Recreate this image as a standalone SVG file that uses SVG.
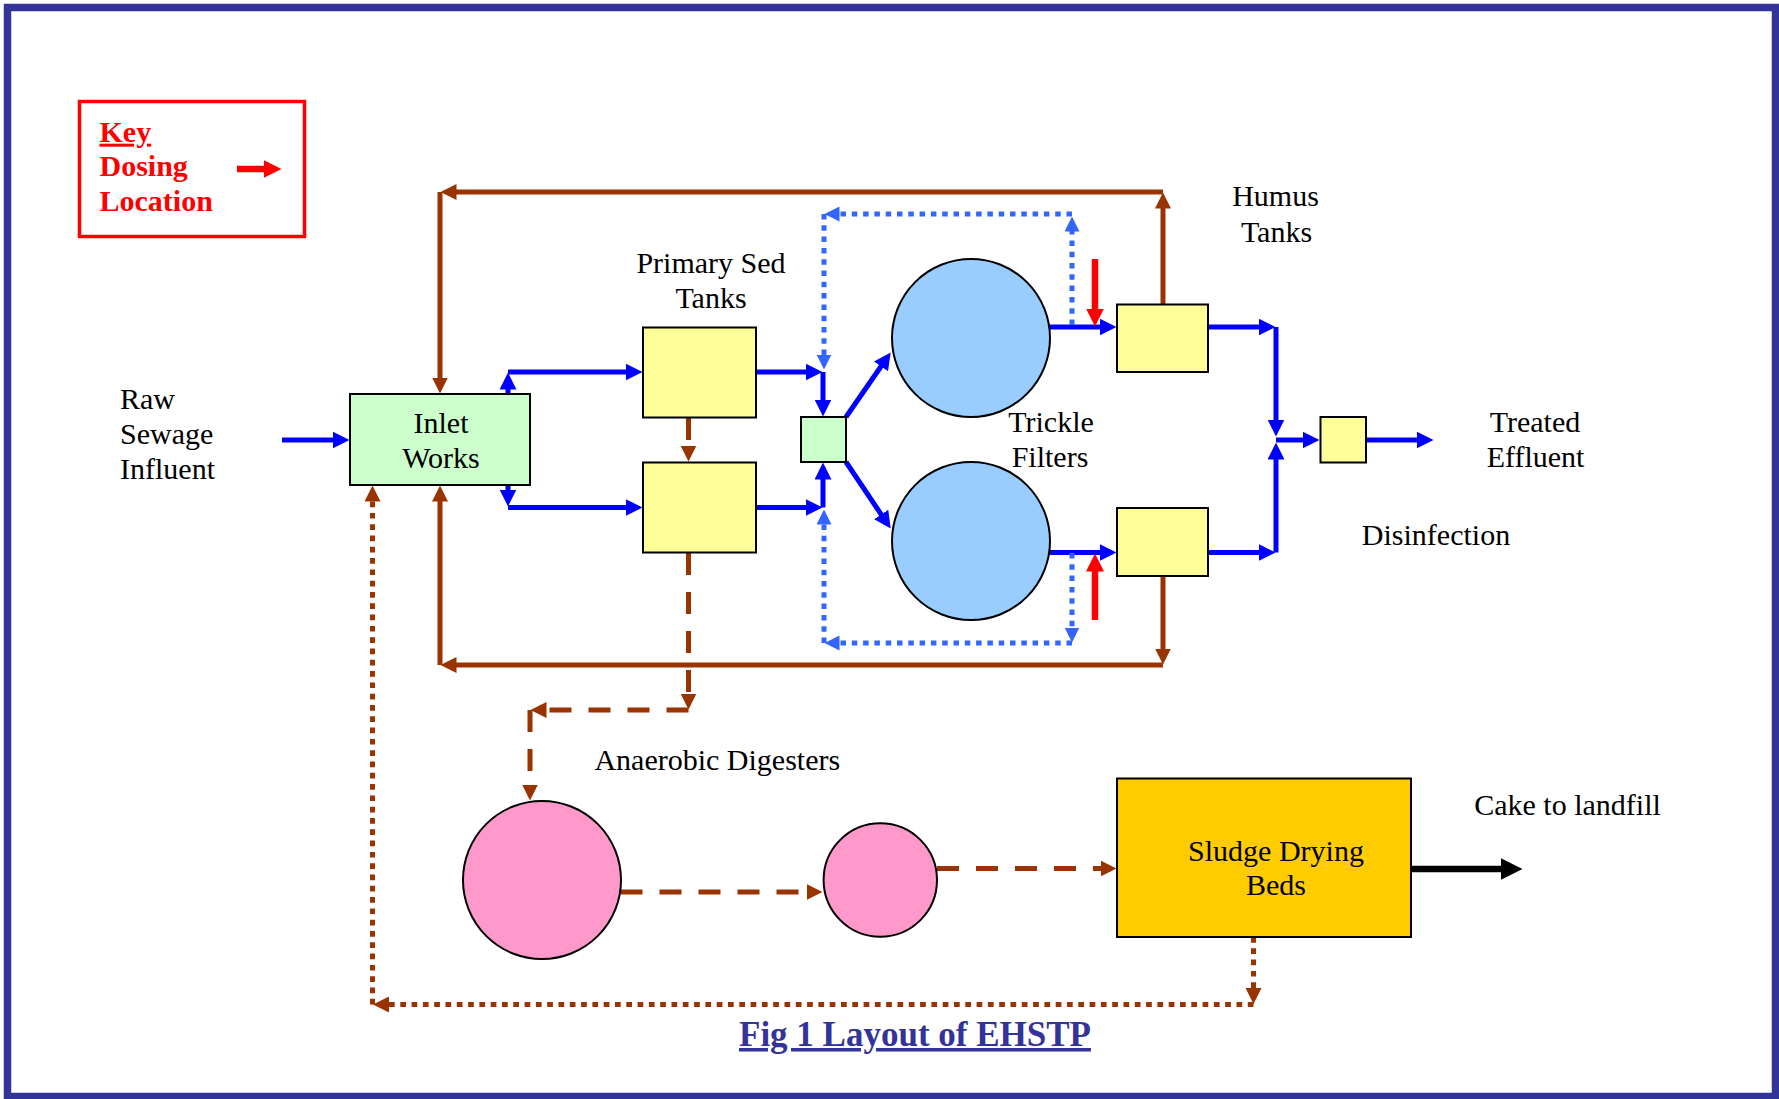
<svg xmlns="http://www.w3.org/2000/svg" width="1779" height="1099" viewBox="0 0 1779 1099">
<style>
text{font-family:"Liberation Serif","Times New Roman",serif;font-size:30px;fill:#000}
.mid{text-anchor:middle}
.key{font-weight:bold;fill:#FF0000}
.title{font-weight:bold;fill:#333399;font-size:35px;text-decoration:underline}
.node{stroke:#000;stroke-width:2}
.blue{stroke:#0000FF;stroke-width:5;fill:none;marker-end:url(#hBlue)}
.lb{stroke:#3366FF;stroke-width:5;fill:none;stroke-dasharray:5.5 5.8;marker-end:url(#hLb)}
.br{stroke:#993300;stroke-width:5;fill:none;marker-end:url(#hBr)}
.brd{stroke:#993300;stroke-width:5;fill:none;stroke-dasharray:22 17;marker-end:url(#hBr)}
.brt{stroke:#993300;stroke-width:5;fill:none;stroke-dasharray:5.7 5.6;marker-end:url(#hBr)}
.red{stroke:#FF0000;stroke-width:6.5;fill:none;marker-end:url(#hRed)}
.blk{stroke:#000;stroke-width:6.5;fill:none;marker-end:url(#hBlk)}
</style>
<defs>
<marker id="hBlue" markerUnits="userSpaceOnUse" viewBox="0 -8.5 17 17" markerWidth="17" markerHeight="17" refX="0.5" refY="0" orient="auto"><path d="M0,-8.5 L17,0 L0,8.5 z" fill="#0000FF"/></marker>
<marker id="hLb" markerUnits="userSpaceOnUse" viewBox="0 -7.5 15 15" markerWidth="15" markerHeight="15" refX="0.5" refY="0" orient="auto"><path d="M0,-7.5 L15,0 L0,7.5 z" fill="#3366FF"/></marker>
<marker id="hBr" markerUnits="userSpaceOnUse" viewBox="0 -8 16 16" markerWidth="16" markerHeight="16" refX="0.5" refY="0" orient="auto"><path d="M0,-8 L16,0 L0,8 z" fill="#993300"/></marker>
<marker id="hRed" markerUnits="userSpaceOnUse" viewBox="0 -9 18 18" markerWidth="18" markerHeight="18" refX="0.5" refY="0" orient="auto"><path d="M0,-9 L18,0 L0,9 z" fill="#FF0000"/></marker>
<marker id="hBlk" markerUnits="userSpaceOnUse" viewBox="0 -11 22 22" markerWidth="22" markerHeight="22" refX="0.5" refY="0" orient="auto"><path d="M0,-11 L22,0 L0,11 z" fill="#000"/></marker>
</defs>
<rect x="0" y="0" width="1779" height="1099" fill="#FFFFFF"/>
<rect id="frame" x="7.5" y="7.5" width="1768" height="1089" fill="none" stroke="#333399" stroke-width="7.5"/>

<g id="key">
<rect x="79.5" y="101.5" width="225" height="135" fill="none" stroke="#FF0000" stroke-width="3.5"/>
<text class="key" x="99.5" y="141.7" text-decoration="underline" style="text-decoration:underline">Key</text>
<text class="key" x="99.5" y="176">Dosing</text>
<text class="key" x="99.5" y="210.7">Location</text>
<line class="red" x1="237" y1="169" x2="264" y2="169"/>
</g>

<g id="connectors">
<!-- blue flow -->
<line class="blue" x1="282" y1="440" x2="333" y2="440"/>
<line class="blue" x1="508" y1="394" x2="508" y2="389"/>
<line class="blue" x1="508" y1="372" x2="626" y2="372"/>
<line class="blue" x1="508" y1="485" x2="508" y2="490"/>
<line class="blue" x1="508" y1="507.5" x2="626" y2="507.5"/>
<line class="blue" x1="756" y1="372" x2="806" y2="372"/>
<line class="blue" x1="823" y1="372" x2="823" y2="400"/>
<line class="blue" x1="756" y1="507.5" x2="806" y2="507.5"/>
<line class="blue" x1="823" y1="507.5" x2="823" y2="479"/>
<line class="blue" x1="846" y1="417" x2="881.3" y2="366"/>
<line class="blue" x1="846" y1="462" x2="881.5" y2="514.9"/>
<line class="blue" x1="1049" y1="327" x2="1100" y2="327"/>
<line class="blue" x1="1049" y1="552.5" x2="1100" y2="552.5"/>
<line class="blue" x1="1208" y1="327" x2="1259" y2="327"/>
<line class="blue" x1="1276" y1="327" x2="1276" y2="420"/>
<line class="blue" x1="1208" y1="552.5" x2="1259" y2="552.5"/>
<line class="blue" x1="1276" y1="552.5" x2="1276" y2="459"/>
<line class="blue" x1="1276" y1="440" x2="1303" y2="440"/>
<line class="blue" x1="1366" y1="440" x2="1417" y2="440"/>
<!-- light blue recirculation -->
<line class="lb" x1="1072" y1="325" x2="1072" y2="231"/>
<line class="lb" x1="1072" y1="214" x2="839" y2="214"/>
<line class="lb" x1="824" y1="214" x2="824" y2="355"/>
<line class="lb" x1="1072" y1="553" x2="1072" y2="628"/>
<line class="lb" x1="1072" y1="643" x2="839" y2="643"/>
<line class="lb" x1="824" y1="643" x2="824" y2="524"/>
<!-- brown humus sludge return -->
<line class="br" x1="1163" y1="304" x2="1163" y2="208"/>
<line class="br" x1="1163" y1="192" x2="456" y2="192"/>
<line class="br" x1="440" y1="192" x2="440" y2="378"/>
<line class="br" x1="1163" y1="576" x2="1163" y2="649"/>
<line class="br" x1="1163" y1="665" x2="456" y2="665"/>
<line class="br" x1="440" y1="665" x2="440" y2="501"/>
<!-- brown dashed sludge -->
<line class="brd" x1="688.5" y1="418" x2="688.5" y2="446"/>
<line class="brd" x1="688.5" y1="553" x2="688.5" y2="694"/>
<line class="brd" x1="688.5" y1="710" x2="546" y2="710"/>
<line class="brd" x1="530" y1="710" x2="530" y2="785"/>
<line class="brd" x1="620.5" y1="892" x2="807" y2="892"/>
<line class="brd" x1="937" y1="868.5" x2="1101" y2="868.5"/>
<!-- brown dotted liquor return -->
<line class="brt" x1="1253.5" y1="937" x2="1253.5" y2="988.5"/>
<line class="brt" x1="1253.5" y1="1004.5" x2="388.5" y2="1004.5"/>
<line class="brt" x1="372.5" y1="1004.5" x2="372.5" y2="501"/>
<!-- dosing -->
<line class="red" x1="1095" y1="259" x2="1095" y2="309"/>
<line class="red" x1="1095" y1="620" x2="1095" y2="571"/>
<!-- cake -->
<line class="blk" x1="1411" y1="869" x2="1501" y2="869"/>
</g>

<g id="raw-sewage">
<text x="120" y="409">Raw</text>
<text x="120" y="444">Sewage</text>
<text x="120" y="479">Influent</text>
</g>
<g id="inlet-works">
<rect class="node" x="350" y="394" width="180" height="91" fill="#CCFFCC"/>
<text class="mid" x="441" y="433">Inlet</text>
<text class="mid" x="441" y="467.7">Works</text>
</g>
<g id="primary-sed-tanks">
<text class="mid" x="711" y="273.3">Primary Sed</text>
<text class="mid" x="711" y="308.3">Tanks</text>
<rect class="node" x="643" y="327.5" width="113" height="90" fill="#FFFF99"/>
<rect class="node" x="643" y="462.5" width="113" height="90" fill="#FFFF99"/>
</g>
<g id="distribution">
<rect class="node" x="801" y="417" width="45" height="45" fill="#CCFFCC"/>
</g>
<g id="trickle-filters">
<circle class="node" cx="971" cy="338" r="79" fill="#99CCFF"/>
<circle class="node" cx="971" cy="541" r="79" fill="#99CCFF"/>
<text class="mid" x="1051" y="431.7">Trickle</text>
<text class="mid" x="1050" y="466.7">Filters</text>
</g>
<g id="humus-tanks">
<text class="mid" x="1275.5" y="206">Humus</text>
<text class="mid" x="1276.5" y="241.7">Tanks</text>
<rect class="node" x="1117" y="304.5" width="91" height="67.5" fill="#FFFF99"/>
<rect class="node" x="1117" y="508" width="91" height="68" fill="#FFFF99"/>
</g>
<g id="disinfection">
<rect class="node" x="1320.5" y="417" width="45.5" height="45.5" fill="#FFFF99"/>
<text class="mid" x="1436" y="545">Disinfection</text>
</g>
<g id="treated-effluent">
<text class="mid" x="1535" y="431.7">Treated</text>
<text class="mid" x="1535.5" y="466.7">Effluent</text>
</g>
<g id="anaerobic-digesters">
<text class="mid" x="717.3" y="770">Anaerobic Digesters</text>
<circle class="node" cx="542" cy="880" r="79" fill="#FF99CC"/>
<circle class="node" cx="880.3" cy="880" r="56.7" fill="#FF99CC"/>
</g>
<g id="sludge-drying-beds">
<rect class="node" x="1117" y="778.5" width="294" height="158.5" fill="#FFCC00"/>
<text class="mid" x="1276" y="861">Sludge Drying</text>
<text class="mid" x="1276" y="895">Beds</text>
</g>
<g id="cake">
<text class="mid" x="1567.5" y="815">Cake to landfill</text>
</g>
<g id="title">
<text class="title mid" x="915" y="1046">Fig 1 Layout of EHSTP</text>
</g>
</svg>
